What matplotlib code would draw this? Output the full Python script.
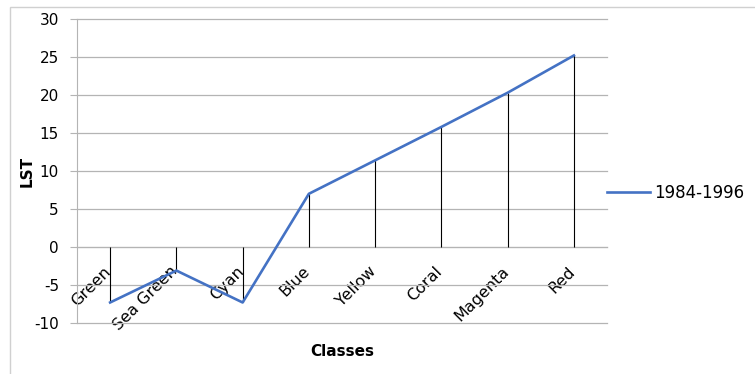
import matplotlib.pyplot as plt
from matplotlib.patches import Rectangle
from matplotlib.transforms import ScaledTranslation

# LST per land cover class
classes = ['Green', 'Sea Green', 'Cyan', 'Blue', 'Yellow', 'Coral', 'Magenta', 'Red']
lst_1984_1996 = [-7.3, -3.1, -7.3, 7.0, 11.4, 15.8, 20.3, 25.2]
series_name = '1984-1996'
y_ticks = [-10, -5, 0, 5, 10, 15, 20, 25, 30]

plt.rcParams['font.family'] = ['DejaVu Sans']
plt.rcParams['axes.unicode_minus'] = False

fig = plt.figure(figsize=(7.55, 3.74), dpi=100)
ax = fig.add_axes([77 / 755, 1 - 323 / 374, 530 / 755, 304 / 374])

grid_col = '#b4b4b4'
x = list(range(len(classes)))

# lineas verticales desde el eje hasta cada punto
ax.vlines(x, 0, lst_1984_1996, color='black', linewidth=0.8, zorder=3)
ax.plot(x, lst_1984_1996, color='#4472C4', linewidth=1.9, label=series_name, zorder=4)

ax.set_xlim(-0.5, len(classes) - 0.5)
ax.set_ylim(-10, 30)
ax.set_yticks(y_ticks)
ax.yaxis.grid(True, color=grid_col, linewidth=0.9)
for gl in ax.get_ygridlines():
    gl.set_clip_on(False)
ax.set_axisbelow(True)

# eje de categorias cruzando en 0
ax.spines['bottom'].set_position(('data', 0))
ax.spines['bottom'].set_color(grid_col)
ax.spines['left'].set_color(grid_col)
ax.spines['top'].set_visible(False)
ax.spines['right'].set_visible(False)

ax.set_xticks(x)
ax.set_xticklabels(classes, rotation=45, ha='right', va='top', fontsize=11.5)
ax.tick_params(axis='x', length=0, pad=12)
ax.tick_params(axis='y', length=5, color=grid_col, labelsize=11, pad=8)
for lbl in ax.get_xticklabels():
    lbl.set_transform(lbl.get_transform() + ScaledTranslation(4 / 100, 0, fig.dpi_scale_trans))

fig.text(27 / 755, 1 - 171 / 374, 'LST', rotation=90, ha='center', va='center',
         fontsize=11, fontweight='bold')
fig.text(342 / 755, 1 - 351 / 374, 'Classes', ha='center', va='center',
         fontsize=11, fontweight='bold')

fig.legend(loc='center left', bbox_to_anchor=(607 / 755, 1 - 193 / 374),
           bbox_transform=fig.transFigure, frameon=False, fontsize=12,
           handlelength=2.6, handletextpad=0.25, borderpad=0, borderaxespad=0)

# borde del area del grafico
fig.patches.append(Rectangle((10 / 755, -0.1), 1.2, 1 - 7 / 374 + 0.1,
                             transform=fig.transFigure, fill=False,
                             edgecolor='#d0d0d0', linewidth=1.0))

fig.savefig('out.png', dpi=100)
